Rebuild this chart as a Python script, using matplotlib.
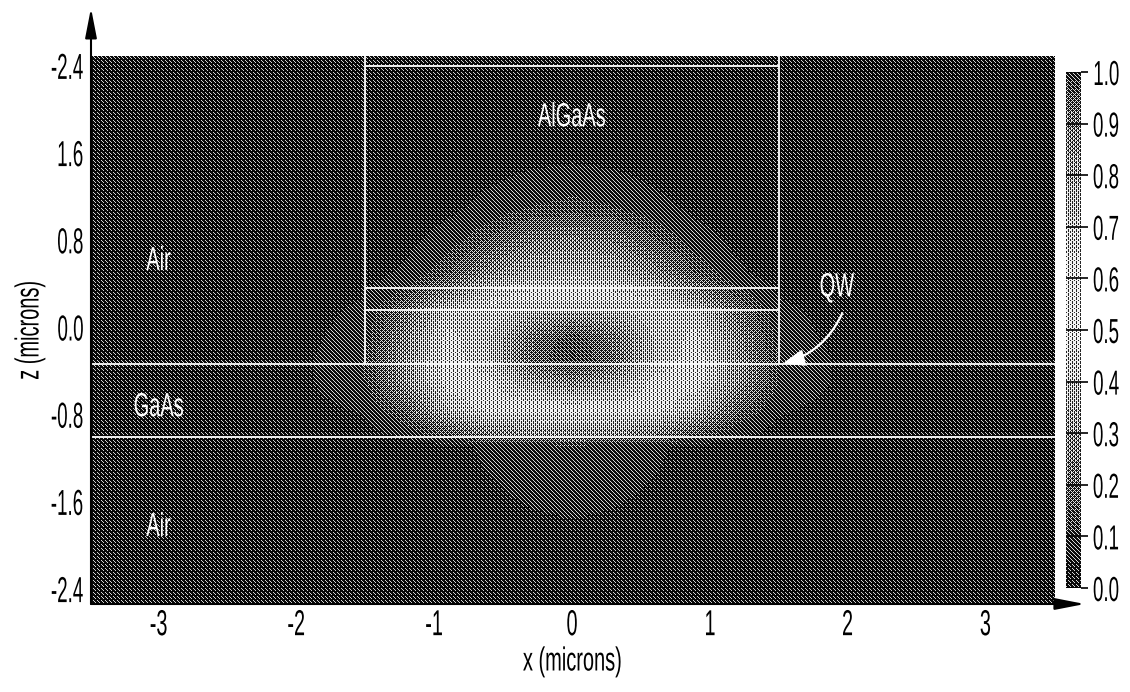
import numpy as np
import matplotlib
matplotlib.use("Agg")
import matplotlib.pyplot as plt
from matplotlib.cm import ScalarMappable
from matplotlib.colors import Normalize
from matplotlib.patches import FancyArrowPatch
from matplotlib.patheffects import AbstractPathEffect
from matplotlib.transforms import Affine2D

plt.rcParams['font.family'] = ['Liberation Sans', 'DejaVu Sans']

# mode intensity
x_grid = [-3.5, -2.5, -2.0, -1.5, -1.2, -0.9, -0.6, -0.3, 0.0, 0.3, 0.6, 0.9, 1.2, 1.5, 2.0, 2.5, 3.5]
z_grid = [2.55, 1.6, 1.1, 0.8, 0.5, 0.36, 0.26, 0.15, -0.1, -0.3, -0.5, -0.75, -1.0, -1.1, -2.55]
field = [
    [0, 0, 0, 0, 0, 0, 0, 0, 0, 0, 0, 0, 0, 0, 0, 0, 0],
    [0, 0, 0, 0, 0, 0, .01, .02, .03, .02, .01, 0, 0, 0, 0, 0, 0],
    [0, 0, 0, 0, .01, .03, .07, .11, .13, .11, .07, .03, .01, 0, 0, 0, 0],
    [0, 0, 0, .01, .03, .08, .16, .24, .26, .24, .16, .08, .03, .01, 0, 0, 0],
    [0, 0, 0, .02, .06, .15, .28, .36, .38, .36, .28, .15, .06, .02, 0, 0, 0],
    [0, 0, 0, .04, .11, .24, .38, .44, .46, .44, .38, .24, .11, .04, 0, 0, 0],
    [0, 0, 0, .05, .16, .32, .46, .50, .50, .50, .46, .32, .16, .05, 0, 0, 0],
    [0, 0, .01, .07, .22, .42, .46, .38, .34, .38, .46, .42, .22, .07, .01, 0, 0],
    [0, 0, .02, .09, .28, .48, .40, .22, .12, .22, .40, .48, .28, .09, .02, 0, 0],
    [0, 0, .03, .11, .30, .50, .40, .20, .10, .20, .40, .50, .30, .11, .03, 0, 0],
    [0, 0, .03, .11, .30, .50, .48, .34, .26, .34, .48, .50, .30, .11, .03, 0, 0],
    [0, 0, .02, .06, .18, .40, .50, .50, .50, .50, .50, .40, .18, .06, .02, 0, 0],
    [0, 0, 0, .02, .06, .14, .24, .28, .30, .28, .24, .14, .06, .02, 0, 0, 0],
    [0, 0, 0, 0, .01, .03, .06, .08, .09, .08, .06, .03, .01, 0, 0, 0, 0],
    [0, 0, 0, 0, 0, 0, 0, 0, 0, 0, 0, 0, 0, 0, 0, 0, 0],
]

x_ticks = [-3, -2, -1, 0, 1, 2, 3]
x_labels = ['-3', '-2', '-1', '0', '1', '2', '3']
z_ticks = [2.4, 1.6, 0.8, 0.0, -0.8, -1.6, -2.4]
z_labels = ['-2.4', '1.6', '0.8', '0.0', '-0.8', '-1.6', '-2.4']
cbar_ticks = [0.0, 0.1, 0.2, 0.3, 0.4, 0.5, 0.6, 0.7, 0.8, 0.9, 1.0]

layer_z = [0.36, 0.16]
interface_z = [-0.34, -1.01]
ridge_top = 2.39
ridge_x = [-1.5, 1.5]

# gray of the halftone against the colorbar value
gray_v = [0.0, 0.1, 0.2, 0.3, 0.4, 0.5, 0.6, 0.7, 0.8, 0.9, 1.0]
gray_l = [0.17, 0.27, 0.40, 0.54, 0.66, 0.76, 0.76, 0.68, 0.58, 0.46, 0.26]

# clustered 45 degree screen
screen = (np.array([[14, 6, 0, 8],
                    [10, 4, 12, 2],
                    [1, 9, 15, 7],
                    [11, 3, 13, 5]]) + 0.5) / 16


class Squeeze(AbstractPathEffect):
    # the reference lettering is very condensed, no installed font is that narrow
    def __init__(self, sx, anchor='center'):
        super().__init__()
        self.sx = sx
        self.anchor = anchor

    def draw_path(self, renderer, gc, tpath, affine, rgbFace=None):
        box = tpath.get_extents()
        ref = {'left': box.x0, 'right': box.x1, 'center': (box.x0 + box.x1) / 2}[self.anchor]
        squeeze = Affine2D().translate(-ref, 0).scale(self.sx, 1).translate(ref, 0)
        renderer.draw_path(gc, tpath, squeeze + affine, rgbFace)


def halftone(v):
    g = np.interp(v, gray_v, gray_l)
    h, w = g.shape
    t = np.tile(screen, (h // 4 + 1, w // 4 + 1))[:h, :w]
    return 0.8 * (g > t) + 0.2 * g


W, H = 1130, 692
fig = plt.figure(figsize=(W / 100, H / 100), dpi=100)
ax = fig.add_axes([91 / W, 1 - 604 / H, 964 / W, 548 / H])
cax = fig.add_axes([1066 / W, 1 - 588 / H, 15 / W, 516 / H])

x0, x1 = (91 - 572) / 137.8, (1055 - 572) / 137.8
z0, z1 = (327 - 604) / 109, (327 - 56) / 109

# resample the table to the pixel grid, then screen it
field = np.array(field, dtype=float)
px_x = np.linspace(x0, x1, 964)
px_z = np.linspace(z1, z0, 548)
by_col = np.array([np.interp(px_x, x_grid, row) for row in field])
by_px = np.array([np.interp(px_z, z_grid[::-1], col[::-1]) for col in by_col.T]).T
ax.imshow(halftone(by_px), extent=(x0, x1, z0, z1), aspect='auto', cmap='gray', vmin=0, vmax=1,
          interpolation='nearest')
ax.set_xlim(x0, x1)
ax.set_ylim(z0, z1)

white = dict(color='white', lw=1.3, zorder=3)
ax.axhline(interface_z[0], **white)
ax.axhline(interface_z[1], **white)
ax.hlines(layer_z + [ridge_top], ridge_x[0], ridge_x[1], **white)
ax.vlines(ridge_x, interface_z[0], z1, **white)

squeeze = [Squeeze(0.6)]
txt = dict(color='white', fontsize=24, ha='center', va='center', zorder=4, path_effects=squeeze)
ax.text(0, 1.92, 'AlGaAs', **txt)
ax.text(-3, 0.6, 'Air', **txt)
ax.text(-3, -0.74, 'GaAs', **txt)
ax.text(-3, -1.84, 'Air', **txt)
ax.text(1.92, 0.36, 'QW', **txt)
ax.add_patch(FancyArrowPatch((1.97, 0.15), (1.51, -0.34), connectionstyle='arc3,rad=-0.25',
                             arrowstyle='-|>,head_length=13,head_width=5', color='white', lw=1.6, zorder=4))

ax.set_xticks(x_ticks, x_labels, fontsize=26, path_effects=[Squeeze(0.55)])
ax.set_yticks(z_ticks, z_labels, fontsize=26, path_effects=[Squeeze(0.52, 'right')])
ax.tick_params(length=0, pad=5)
ax.tick_params(axis='x', pad=3)
for s in ax.spines.values():
    s.set_visible(False)
ax.set_xlabel('x (microns)', fontsize=24, path_effects=squeeze, va='center')
ax.set_ylabel('z (microns)', fontsize=24, path_effects=squeeze, va='center')
ax.xaxis.set_label_coords(0.5, -(662 - 604) / 548)
ax.yaxis.set_label_coords((30 - 91) / 964, 0.5)

arrow = dict(arrowstyle='-|>,head_length=1.8,head_width=0.35', color='black', lw=1.5, shrinkA=0, shrinkB=0)
ax.annotate('', xy=(0, 1.0876), xytext=(0, 0), xycoords='axes fraction', annotation_clip=False, arrowprops=arrow)
ax.annotate('', xy=(1.031, 0), xytext=(0, 0), xycoords='axes fraction', annotation_clip=False, arrowprops=arrow)

cb = fig.colorbar(ScalarMappable(norm=Normalize(0, 1), cmap='gray'), cax=cax, ticks=cbar_ticks)
cb.outline.set_visible(False)
cax.set_yticklabels([f'{t:.1f}' for t in cbar_ticks], fontsize=25, ha='center', path_effects=[Squeeze(0.54)])
cax.tick_params(length=5, width=1.2, pad=13)
ramp = np.tile(np.linspace(1, 0, 516)[:, None], (1, 15))
cax.imshow(halftone(ramp), extent=(0, 1, 0, 1), aspect='auto', cmap='gray', vmin=0, vmax=1,
           interpolation='nearest', zorder=2)
cax.hlines(cbar_ticks, 0, 1, color='black', lw=1.2, zorder=3)
cax.set_xlim(0, 1)
cax.set_ylim(0, 1)

fig.savefig('out.png', dpi=100)
